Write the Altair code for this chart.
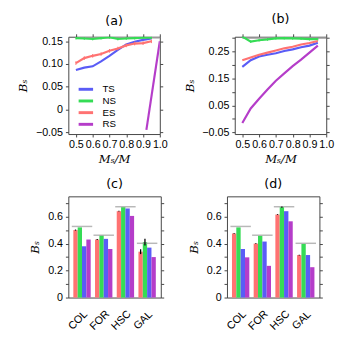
import altair as alt
import pandas as pd

# ---------------- data ----------------
series_names = ["TS", "NS", "ES", "RS"]
series_colors = ["#5a5cf6", "#35dc55", "#ff7272", "#b53dc9"]

x_pts = [0.5, 0.55, 0.6, 0.65, 0.7, 0.75, 0.8, 0.85, 0.9, 0.95]
x_ticks = [0.5, 0.6, 0.7, 0.8, 0.9, 1.0]

# panel (a)
a_TS = [0.087, 0.092, 0.095, 0.106, 0.118, 0.131, 0.143, 0.149, 0.153, 0.156]
a_NS = [0.157, 0.156, 0.155, 0.157, 0.159, 0.155, 0.156, 0.157, 0.158, 0.158]
a_ES = [0.102, 0.113, 0.118, 0.122, 0.129, 0.134, 0.141, 0.145, 0.146, 0.150]
a_RS_x = [0.92, 1.0]
a_RS = [-0.045, 0.150]
a_ref = 0.158
a_err_ES = 0.004
a_err_NS = 0.003

# panel (b)
b_TS = [0.193, 0.218, 0.232, 0.238, 0.244, 0.252, 0.258, 0.266, 0.272, 0.283]
b_NS = [0.306, 0.287, 0.292, 0.295, 0.299, 0.300, 0.299, 0.298, 0.296, 0.296]
b_ES = [0.218, 0.228, 0.238, 0.246, 0.254, 0.262, 0.268, 0.276, 0.282, 0.289]
b_RS = [-0.015, 0.039, 0.075, 0.109, 0.142, 0.169, 0.196, 0.220, 0.246, 0.272]
b_ref = 0.300
b_err_NS = 0.005

# bar panels
cats = ["COL", "FOR", "HSC", "GAL"]
bar_series = ["ES", "NS", "TS", "RS"]
c_ES = [0.50, 0.43, 0.64, 0.34]
c_NS = [0.52, 0.46, 0.67, 0.41]
c_TS = [0.38, 0.435, 0.66, 0.37]
c_RS = [0.43, 0.36, 0.605, 0.30]
c_ref = [0.527, 0.462, 0.673, 0.402]
c_err_ES = [0.004, 0.003, 0.003, 0.018]
c_err_NS = [0.0, 0.0, 0.0, 0.025]

d_ES = [0.475, 0.40, 0.615, 0.315]
d_NS = [0.52, 0.458, 0.67, 0.398]
d_TS = [0.36, 0.415, 0.64, 0.315]
d_RS = [0.298, 0.235, 0.565, 0.225]
d_ref = [0.527, 0.462, 0.673, 0.402]
d_err_ES = [0.003, 0.003, 0.003, 0.003]
d_err_NS = [0.0, 0.0, 0.004, 0.0]

# ---------------- style ----------------
FONT = "Liberation Sans"
FRAME = "#444444"
GRAY = "#9a9a9a"
cscale = alt.Scale(domain=series_names, range=series_colors)


def long_lines(series_map):
    rows = []
    for name, (xs, ys) in series_map.items():
        for xv, yv in zip(xs, ys):
            rows.append({"series": name, "x": xv, "y": yv})
    return pd.DataFrame(rows)


def err_rows(name, xs, ys, e):
    return [{"series": name, "x": xv, "lo": yv - e, "hi": yv + e} for xv, yv in zip(xs, ys)]


def line_panel(df, err_df, ref_y, title, ydom, yvals, label_expr, legend):
    xscale = alt.Scale(domain=[0.455, 1.0], nice=False, zero=False)
    yscale = alt.Scale(domain=ydom, nice=False, zero=False)
    xaxis = alt.Axis(values=x_ticks, format=".1f", title="Mₛ/M", labelOverlap=False,
                     labelFlush=False, labelBound=False, labelPadding=2, titlePadding=4)
    yaxis = alt.Axis(values=yvals, labelExpr=label_expr, title="Bₛ", labelOverlap=False,
                     labelFlush=False, labelPadding=3, titlePadding=6)
    refdf = pd.DataFrame({"x": [0.5], "x2": [1.0], "y": [ref_y]})
    ref = alt.Chart(refdf).mark_rule(color=GRAY, strokeWidth=1.5).encode(
        x=alt.X("x:Q", scale=xscale, axis=xaxis),
        x2="x2:Q",
        y=alt.Y("y:Q", scale=yscale, axis=yaxis),
    )
    mirror = alt.Chart(refdf).mark_rule(opacity=0).encode(
        x=alt.X("x:Q", scale=xscale, axis=alt.Axis(orient="top", values=x_ticks, labels=False, title=None)),
        y=alt.Y("y:Q", scale=yscale, axis=alt.Axis(orient="right", values=yvals, labels=False, title=None)),
    )
    lines = alt.Chart(df).mark_line(clip=True, strokeWidth=2.2).encode(
        x=alt.X("x:Q", scale=xscale, axis=None),
        y=alt.Y("y:Q", scale=yscale, axis=None),
        color=alt.Color("series:N", scale=cscale, legend=legend),
        detail="series:N",
    )
    errs = alt.Chart(err_df).mark_rule(clip=True, strokeWidth=1).encode(
        x=alt.X("x:Q", scale=xscale, axis=None),
        y=alt.Y("lo:Q", scale=yscale, axis=None),
        y2="hi:Q",
        color=alt.Color("series:N", scale=cscale, legend=None),
    )
    return alt.layer(ref, mirror, lines, errs).resolve_axis(
        x="independent", y="independent"
    ).resolve_legend(color="independent").properties(
        width=94, height=100,
        title=alt.Title(title, font="DejaVu Sans", fontSize=13, fontWeight="normal", offset=6),
    )


def bar_panel(vals, ref_vals, errs, title):
    rows = []
    for s, v in zip(bar_series, vals):
        for c, y in zip(cats, v):
            rows.append({"cat": c, "series": s, "val": y})
    bdf = pd.DataFrame(rows)
    rdf = pd.DataFrame({"cat": cats, "ref": ref_vals})
    erows = []
    for s, (v, e) in errs.items():
        for c, y, ee in zip(cats, v, e):
            if ee > 0:
                erows.append({"cat": c, "series": s, "lo": y - ee, "hi": y + ee})
    edf = pd.DataFrame(erows)
    xscale = alt.Scale(domain=cats, paddingInner=0.2, paddingOuter=0.23)
    yscale = alt.Scale(domain=[0, 0.75], nice=False, zero=False)
    yvals = [0, 0.1, 0.2, 0.3, 0.4, 0.5, 0.6, 0.7]
    lab = "round(datum.value*10) % 2 == 0 ? (datum.value == 0 ? '0' : format(datum.value, '.1f')) : ''"
    offs = alt.Scale(domain=bar_series, paddingInner=0, paddingOuter=0)
    bars = alt.Chart(bdf).mark_bar().encode(
        x=alt.X("cat:N", sort=cats, scale=xscale,
                axis=alt.Axis(labelAngle=315, ticks=False, title=None, labelAlign="center",
                              labelBaseline="middle", labelPadding=23, labelOffset=-4,
                              labelFontSize=11)),
        xOffset=alt.XOffset("series:N", sort=bar_series, scale=offs),
        y=alt.Y("val:Q", scale=yscale,
                axis=alt.Axis(values=yvals, labelExpr=lab, title="Bₛ", labelPadding=3, titlePadding=6)),
        color=alt.Color("series:N", scale=cscale, legend=None),
    )
    refm = alt.Chart(rdf).mark_tick(color=GRAY, thickness=1.5, size=21).encode(
        x=alt.X("cat:N", sort=cats, scale=xscale, axis=None),
        y=alt.Y("ref:Q", scale=yscale,
                axis=alt.Axis(orient="right", values=yvals, labels=False, title=None)),
    )
    errm = alt.Chart(edf).mark_rule(color="black", strokeWidth=1.3).encode(
        x=alt.X("cat:N", sort=cats, scale=xscale, axis=None),
        xOffset=alt.XOffset("series:N", sort=bar_series, scale=offs),
        y=alt.Y("lo:Q", scale=yscale, axis=None),
        y2="hi:Q",
    )
    return alt.layer(bars, refm, errm).resolve_axis(x="independent", y="independent").properties(
        width=95, height=104,
        title=alt.Title(title, font="DejaVu Sans", fontSize=13, fontWeight="normal", offset=6),
    )


# ---------------- build ----------------
dfa = long_lines({"TS": (x_pts, a_TS), "NS": (x_pts, a_NS), "ES": (x_pts, a_ES), "RS": (a_RS_x, a_RS)})
erra = pd.DataFrame(err_rows("ES", x_pts, a_ES, a_err_ES) + err_rows("NS", x_pts, a_NS, a_err_NS))
dfb = long_lines({"TS": (x_pts, b_TS), "NS": (x_pts, b_NS), "ES": (x_pts, b_ES), "RS": (x_pts, b_RS)})
errb = pd.DataFrame(err_rows("NS", x_pts, b_NS, b_err_NS))

legend_a = alt.Legend(orient="none", legendX=12, legendY=48, title=None,
                      symbolType="M-1.65,0L1.65,0", symbolStrokeWidth=3, symbolSize=81,
                      labelFontSize=10, labelFont=FONT, rowPadding=0, labelOffset=11,
                      padding=0, symbolOffset=0)

lab_a = "datum.value == 0 ? '0' : format(datum.value, '.2f')"
lab_b = "(abs(round(datum.value*100)) % 10 == 5) ? format(datum.value, '.2f') : ''"

pa = line_panel(dfa, erra, a_ref, "(a)", [-0.054, 0.160], [-0.05, 0, 0.05, 0.10, 0.15], lab_a, legend_a)
pb = line_panel(dfb, errb, b_ref, "(b)", [-0.056, 0.305],
                [-0.05, 0, 0.05, 0.10, 0.15, 0.20, 0.25, 0.30], lab_b, None)
pc = bar_panel([c_ES, c_NS, c_TS, c_RS], c_ref, {"ES": (c_ES, c_err_ES), "NS": (c_NS, c_err_NS)}, "(c)")
pd_ = bar_panel([d_ES, d_NS, d_TS, d_RS], d_ref, {"ES": (d_ES, d_err_ES), "NS": (d_NS, d_err_NS)}, "(d)")

chart = alt.vconcat(
    alt.hconcat(pa, pb, spacing=14),
    alt.hconcat(pc, pd_, spacing=23),
    spacing=12,
).properties(padding={"left": 8, "top": 0, "right": 0, "bottom": 0}).configure_view(
    stroke=FRAME, strokeWidth=1
).configure_axis(
    domain=False, grid=False, labelFont=FONT, labelFontSize=11, labelColor="black",
    tickColor=FRAME, tickSize=3, titleFont="DejaVu Serif", titleFontStyle="italic",
    titleFontWeight="normal", titleFontSize=12, titleColor="black",
).configure_legend(labelFont=FONT)

chart.save("out.html", embed_options={"renderer": "svg", "actions": False})
